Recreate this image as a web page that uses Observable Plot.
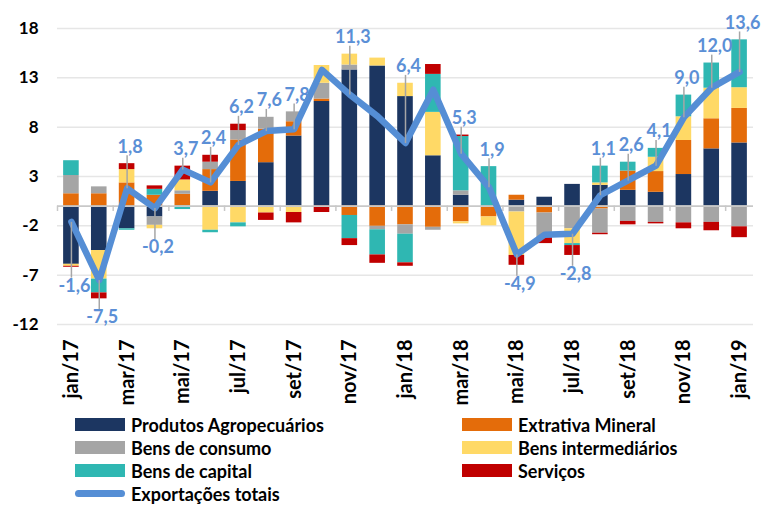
<!DOCTYPE html>
<html><head><meta charset="utf-8">
<script src="https://cdn.jsdelivr.net/npm/d3@7"></script>
<script src="https://cdn.jsdelivr.net/npm/@observablehq/plot@0.6"></script>
<style>
body{margin:0;background:#fff;font-family:Lato, sans-serif;}
#legend{display:grid;grid-template-columns:387px 300px;margin-left:75px;padding-top:3px;}
.item{display:flex;align-items:center;height:23px;font-weight:bold;font-size:18px;color:#000;white-space:nowrap;}
.sw{width:50px;height:13px;margin-right:6px;flex:none;}
.ln{width:50px;height:7px;border-radius:4px;margin-right:6px;flex:none;}
</style></head><body>
<div id="chart"></div><div id="legend"></div>
<script>
const months = ["jan/17","fev/17","mar/17","abr/17","mai/17","jun/17","jul/17","ago/17","set/17","out/17","nov/17","dez/17",
  "jan/18","fev/18","mar/18","abr/18","mai/18","jun/18","jul/18","ago/18","set/18","out/18","nov/18","dez/18","jan/19"];
const seriesNames = ["Produtos Agropecuários","Extrativa Mineral","Bens de consumo","Bens intermediários","Bens de capital","Serviços"];
const seriesColors = ["#1c3661","#e46c0a","#a5a5a5","#ffd966","#2fb7b2","#c00000"];
const agro     = [-5.9,-4.5,-2.3,-1.1,0,1.5,2.5,4.4,7.1,10.6,13.8,14.2,11.1,5.1,1.1,0,0.6,0.9,2.2,2.1,1.6,1.4,3.2,5.8,6.4];
const mineral  = [1.25,1.25,2.35,1.1,1.2,2.2,4.2,3.4,1.45,0.25,-0.95,-2.05,-1.9,-2.15,-1.6,-1.1,0.5,-0.7,0,-0.3,1.95,2.1,3.45,3.05,3.5];
const consumo  = [1.85,0.7,0,-0.85,0.35,0.75,0.95,1.2,1.0,1.6,0.5,-0.35,-0.95,-0.3,0.45,0,-0.6,-2.5,-2.3,-2.45,-1.55,-1.65,-1.7,-1.65,-2.1];
const intermed = [-0.2,-2.9,1.35,-0.35,1.1,-2.45,-1.7,-0.7,-0.65,1.8,1.1,0.8,1.35,4.4,-0.2,-0.9,-4.4,0,-1.5,0.25,0,1.45,2.4,3.1,2.1];
const capital  = [1.5,-1.4,-0.15,0.6,-0.35,-0.25,-0.4,0,0,0,-2.35,-2.55,-2.9,3.85,5.5,4.0,0,0,-0.2,1.7,0.9,0.9,2.2,2.55,4.85];
const servicos = [-0.1,-0.6,0.6,0.35,1.4,0.7,0.65,-0.75,-1.05,-0.65,-0.7,-0.85,-0.35,1.0,0.15,0,-1.0,-0.6,-1.0,-0.15,-0.35,-0.15,-0.6,-0.85,-1.1];
const totals   = [-1.6,-7.5,1.8,-0.2,3.7,2.4,6.2,7.6,7.8,13.8,11.3,9.1,6.4,11.8,5.3,1.9,-4.9,-2.9,-2.8,1.1,2.6,4.1,9.0,12.0,13.6];
const unlabeled = ["out/17","dez/17","fev/18","jun/18"];
const yTicks = [18,13,8,3,-2,-7,-12];
const xTicks = months.filter((d,i)=>i%2===0);
const lineName = "Exportações totais";
const lineColor = "#558ed5";

const seriesValues = [agro, mineral, consumo, intermed, capital, servicos];
const rows = months.flatMap((m,i)=>seriesNames.map((s,j)=>({month:m, series:s, value:seriesValues[j][i]})));
const totalRows = months.map((m,i)=>{
  const vals = seriesValues.map(a=>a[i]);
  const pos = d3.sum(vals.filter(v=>v>0));
  const neg = d3.sum(vals.filter(v=>v<0));
  const t = totals[i];
  const ly = t >= 0 ? pos + 1.7 : neg - 1.9;
  return {month:m, total:t, labelY:ly, linkEnd: t >= 0 ? ly - 0.85 : ly + 0.85,
          label: String(t.toFixed(1)).replace(".", ",")};
});
const labelRows = totalRows.filter(d=>!unlabeled.includes(d.month));

const W = 777, H = 410, ML = 57, MR = 24;
const step = (W - ML - MR) / months.length;

const chart = Plot.plot({
  width: W, height: H,
  marginLeft: ML, marginRight: MR, marginTop: 28, marginBottom: 86,
  style: {fontFamily: "Lato, sans-serif", background: "#fff"},
  x: {type: "band", domain: months, paddingInner: 0.44, paddingOuter: 0.22, round: false},
  y: {domain: [-12, 18]},
  color: {domain: seriesNames, range: seriesColors},
  marks: [
    Plot.ruleY(yTicks, {stroke: "#e6e6e6", strokeWidth: 1.5}),
    Plot.barY(rows, {x: "month", y: "value", fill: "series"}),
    Plot.ruleY([0], {stroke: "#c8c8c8", strokeWidth: 1.8}),
    Plot.ruleX(xTicks, {x: d=>d, y1: 0, y2: -0.55, dx: -step/2, stroke: "#c8c8c8", strokeWidth: 1.5}),
    Plot.line(totalRows, {x: "month", y: "total", stroke: lineColor, strokeWidth: 6.5, strokeLinejoin: "round", strokeLinecap: "round"}),
    Plot.link(labelRows, {x1: "month", x2: "month", y1: "total", y2: "linkEnd", stroke: "#a6a6a6", strokeWidth: 1.5}),
    Plot.text(labelRows, {x: "month", y: "labelY", text: "label", fill: "#5b8fd6", fontWeight: "bold", fontSize: 18, dx: 3}),
    Plot.axisY(yTicks, {tickSize: 0, tickPadding: 19, fontSize: 17, fontWeight: "bold", tickFormat: d=>String(d), label: null, fill: "#000"}),
    Plot.axisX(xTicks, {tickSize: 0, tickPadding: 15, tickRotate: -90, fontSize: 20, fontWeight: "bold", label: null, fill: "#000"})
  ]
});
document.getElementById("chart").appendChild(chart);

const legend = document.getElementById("legend");
seriesNames.forEach((name,i)=>{
  const it = document.createElement("div"); it.className = "item";
  const sw = document.createElement("span"); sw.className = "sw"; sw.style.background = seriesColors[i];
  it.appendChild(sw); it.appendChild(document.createTextNode(name));
  legend.appendChild(it);
});
const it = document.createElement("div"); it.className = "item";
const ln = document.createElement("span"); ln.className = "ln"; ln.style.background = lineColor;
it.appendChild(ln); it.appendChild(document.createTextNode(lineName));
legend.appendChild(it);
</script>
</body></html>
